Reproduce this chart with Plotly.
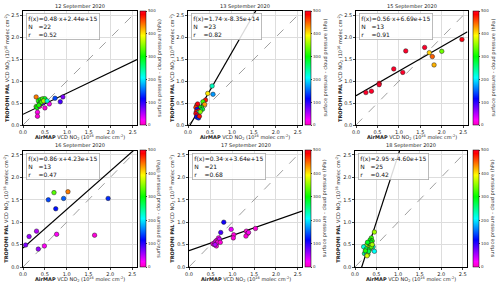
import plotly.graph_objects as go

# ---------------- data ----------------
dates = ["12 September 2020", "13 September 2020", "15 September 2020",
         "16 September 2020", "17 September 2020", "18 September 2020"]
slopes = [0.48, 1.74, 0.56, 0.86, 0.34, 2.95]
intercepts = [2.44e15, -8.35e14, 6.69e15, 4.23e15, 3.64e15, -4.60e15]
n_points = [22, 23, 13, 13, 21, 25]
r_values = [0.52, 0.82, 0.91, 0.47, 0.68, 0.42]

x_12 = [0.30, 0.35, 0.40, 0.45, 0.50, 0.30, 0.32, 0.40, 0.73, 0.91, 0.85, 0.60, 0.50, 0.33, 0.33, 0.38, 0.45, 0.38, 0.42, 0.47, 0.55, 0.36]
y_12 = [0.64, 0.55, 0.58, 0.60, 0.60, 0.42, 0.40, 0.50, 0.61, 0.64, 0.53, 0.48, 0.39, 0.29, 0.20, 0.43, 0.50, 0.48, 0.52, 0.55, 0.55, 0.45]
c_12 = [440, 310, 300, 330, 290, 320, 300, 230, 140, 70, 90, 20, 10, 15, 10, 20, 80, 300, 320, 360, 220, 310]

x_13 = [0.55, 0.57, 0.45, 0.40, 0.34, 0.38, 0.31, 0.33, 0.28, 0.25, 0.20, 0.22, 0.18, 0.21, 0.24, 0.19, 0.23, 0.18, 0.21, 0.20, 0.24, 0.26, 0.28]
y_13 = [0.89, 0.70, 0.72, 0.57, 0.53, 0.47, 0.40, 0.36, 0.35, 0.42, 0.45, 0.48, 0.40, 0.36, 0.32, 0.30, 0.28, 0.26, 0.22, 0.18, 0.16, 0.20, 0.30]
c_13 = [230, 170, 400, 480, 320, 430, 310, 280, 260, 300, 440, 490, 470, 120, 500, 480, 200, 490, 500, 110, 130, 480, 350]

x_15 = [0.23, 0.36, 0.54, 0.54, 0.88, 1.09, 1.16, 1.60, 1.71, 1.78, 1.82, 2.00, 2.47]
y_15 = [0.74, 0.77, 0.95, 0.92, 1.28, 1.20, 1.69, 1.77, 1.65, 1.56, 1.37, 1.68, 1.95]
c_15 = [500, 500, 490, 500, 500, 500, 520, 510, 410, 450, 420, 340, 490]

x_16 = [0.06, 0.14, 0.31, 0.35, 0.49, 0.77, 1.64, 0.58, 0.71, 0.93, 1.03, 0.75, 1.95]
y_16 = [0.49, 0.68, 0.80, 0.40, 0.47, 0.73, 0.71, 1.50, 1.66, 1.53, 1.68, 1.30, 1.53]
c_16 = [70, 60, 50, 60, 20, 20, 10, 140, 330, 150, 440, 120, 130]

x_17 = [0.80, 0.73, 0.97, 1.03, 1.02, 1.32, 1.35, 1.31, 1.37, 1.53, 0.55, 0.58, 0.60, 0.62, 0.65, 0.68, 0.63, 0.70, 0.66, 0.72, 0.60]
y_17 = [1.00, 0.77, 0.84, 0.72, 0.65, 0.80, 0.75, 0.69, 0.77, 0.86, 0.52, 0.50, 0.55, 0.58, 0.60, 0.65, 0.47, 0.62, 0.55, 0.55, 0.50]
c_17 = [110, 90, 30, 10, 10, 10, 10, 10, 20, 10, 10, 20, 10, 30, 10, 20, 10, 40, 10, 10, 50]

x_18 = [0.45, 0.38, 0.35, 0.40, 0.37, 0.33, 0.30, 0.36, 0.28, 0.25, 0.20, 0.31, 0.26, 0.34, 0.42, 0.45, 0.22, 0.27, 0.30, 0.32, 0.38, 0.24, 0.29, 0.40, 0.28]
y_18 = [0.78, 0.65, 0.60, 0.58, 0.55, 0.52, 0.50, 0.48, 0.45, 0.47, 0.45, 0.42, 0.40, 0.40, 0.45, 0.35, 0.30, 0.30, 0.28, 0.35, 0.45, 0.36, 0.55, 0.50, 0.25]
c_18 = [360, 320, 300, 310, 290, 280, 300, 340, 320, 350, 220, 380, 260, 300, 230, 210, 250, 200, 340, 270, 330, 310, 290, 360, 380]

xs = [x_12, x_13, x_15, x_16, x_17, x_18]
ys = [y_12, y_13, y_15, y_16, y_17, y_18]
cs = [c_12, c_13, c_15, c_16, c_17, c_18]

axis_max = 2.6
cbar_ticks = [0, 100, 200, 300, 400, 500]

# ---------------- layout geometry (pixels) ----------------
W, H = 500, 287
plot_left = [23, 188, 356, 23, 189, 355]
plot_right = [137, 302, 467.5, 136.5, 302, 467]
plot_top = [11, 11, 11, 150.5, 150.5, 150.5]
plot_bottom = [125, 125, 125, 267, 267, 267]
cb_left = [139.5, 305, 473, 139.5, 305, 473]

# gist_rainbow reversed
cscale = [[0.0, "#ff00bf"], [0.046, "#ff00ff"], [0.23, "#0000ff"], [0.414, "#00ffff"],
          [0.6, "#00ff00"], [0.785, "#ffff00"], [0.97, "#ff0000"], [1.0, "#ff0029"]]

FONT = "DejaVu Sans"
fig = go.Figure()
annotations = []


def px_x(v):
    return v / W


def px_y(v):
    return 1 - v / H


for i in range(6):
    k = "" if i == 0 else str(i + 1)
    xa, ya = "x" + k, "y" + k
    s = slopes[i]
    b = intercepts[i] / 1e16
    fig.add_trace(go.Scatter(x=[0, axis_max], y=[0, axis_max], mode="lines",
                             line=dict(color="#888888", width=0.8, dash="dash"),
                             xaxis=xa, yaxis=ya, showlegend=False, hoverinfo="skip"))
    fx = [0, axis_max]
    fig.add_trace(go.Scatter(x=fx, y=[s * v + b for v in fx], mode="lines",
                             line=dict(color="black", width=1.2),
                             xaxis=xa, yaxis=ya, showlegend=False, hoverinfo="skip"))
    h_px = plot_bottom[i] - plot_top[i]
    fig.add_trace(go.Scatter(
        x=xs[i], y=ys[i], mode="markers", xaxis=xa, yaxis=ya, showlegend=False,
        marker=dict(size=4.5, color=cs[i], colorscale=cscale, cmin=0, cmax=500,
                    line=dict(color="#222222", width=0.5),
                    showscale=True,
                    colorbar=dict(x=px_x(cb_left[i]), xanchor="left", xpad=0,
                                  y=px_y(plot_bottom[i]), yanchor="bottom", ypad=0,
                                  len=h_px, lenmode="pixels",
                                  thickness=5.5, thicknessmode="pixels",
                                  outlinewidth=0.5, outlinecolor="black",
                                  tickvals=cbar_ticks, ticks="outside", ticklen=1.5,
                                  tickwidth=0.5, tickfont=dict(size=4, family=FONT, color="#333"))),
    ))
    dom_x = [px_x(plot_left[i]), px_x(plot_right[i])]
    dom_y = [px_y(plot_bottom[i]), px_y(plot_top[i])]
    axstyle = dict(range=[0, axis_max], dtick=0.5, tickformat=".1f", showgrid=True,
                   gridcolor="#dddddd", gridwidth=0.6, showline=True, mirror=True,
                   linecolor="black", linewidth=0.8, ticks="outside", ticklen=2,
                   tickwidth=0.6, tickfont=dict(size=5, family=FONT, color="#222"),
                   zeroline=False, fixedrange=True, automargin=False)
    fig.update_layout(**{"xaxis" + k: dict(domain=dom_x, anchor=ya, **axstyle),
                         "yaxis" + k: dict(domain=dom_y, anchor=xa, **axstyle)})
    cx = (plot_left[i] + plot_right[i]) / 2
    cy = (plot_top[i] + plot_bottom[i]) / 2
    annotations.append(dict(text=dates[i], x=px_x(cx), y=px_y(plot_top[i] - 5),
                            xref="paper", yref="paper", xanchor="center", yanchor="middle",
                            showarrow=False, font=dict(size=5, family=FONT, color="#222")))
    annotations.append(dict(text="<b>AirMAP</b> VCD NO<sub>2</sub> (10<sup>16</sup> molec cm<sup>-2</sup>)",
                            x=px_x(cx), y=px_y(plot_bottom[i] + 12.3), xref="paper", yref="paper",
                            xanchor="center", yanchor="middle", showarrow=False,
                            font=dict(size=5, family=FONT, color="#222")))
    annotations.append(dict(text="<b>TROPOMI PAL</b> VCD NO<sub>2</sub> (10<sup>16</sup> molec cm<sup>-2</sup>)",
                            x=px_x(plot_left[i] - 16), y=px_y(cy), xref="paper", yref="paper",
                            xanchor="center", yanchor="middle", textangle=-90, showarrow=False,
                            font=dict(size=5, family=FONT, color="#222")))
    annotations.append(dict(text="surface pressure - cloud pressure (hPa)",
                            x=px_x(cb_left[i] + 19.5), y=px_y(cy), xref="paper", yref="paper",
                            xanchor="center", yanchor="middle", textangle=-90, showarrow=False,
                            font=dict(size=5, family=FONT, color="#333")))
    eq = f"f(x)={s:.2f}·x{intercepts[i]:+.2e}"
    box = f"{eq}<br>N   ={n_points[i]}<br>r    ={r_values[i]:.2f}"
    annotations.append(dict(text=box, x=px_x(plot_left[i] + 3), y=px_y(plot_top[i] + 2),
                            xref="paper", yref="paper", xanchor="left", yanchor="top",
                            align="left", showarrow=False, bgcolor="rgba(255,255,255,0.85)",
                            bordercolor="#aaaaaa", borderwidth=0.8, borderpad=1.5,
                            font=dict(size=6, family=FONT, color="#111")))

fig.update_layout(width=W, height=H, autosize=False,
                  margin=dict(l=0, r=0, t=0, b=0, autoexpand=False),
                  paper_bgcolor="white", plot_bgcolor="white", annotations=annotations,
                  font=dict(family=FONT))
fig.write_html("out.html", config={"displayModeBar": False},
               post_script="document.body.style.margin='0';document.body.style.overflow='hidden';"
                           "document.documentElement.style.overflow='hidden';")
